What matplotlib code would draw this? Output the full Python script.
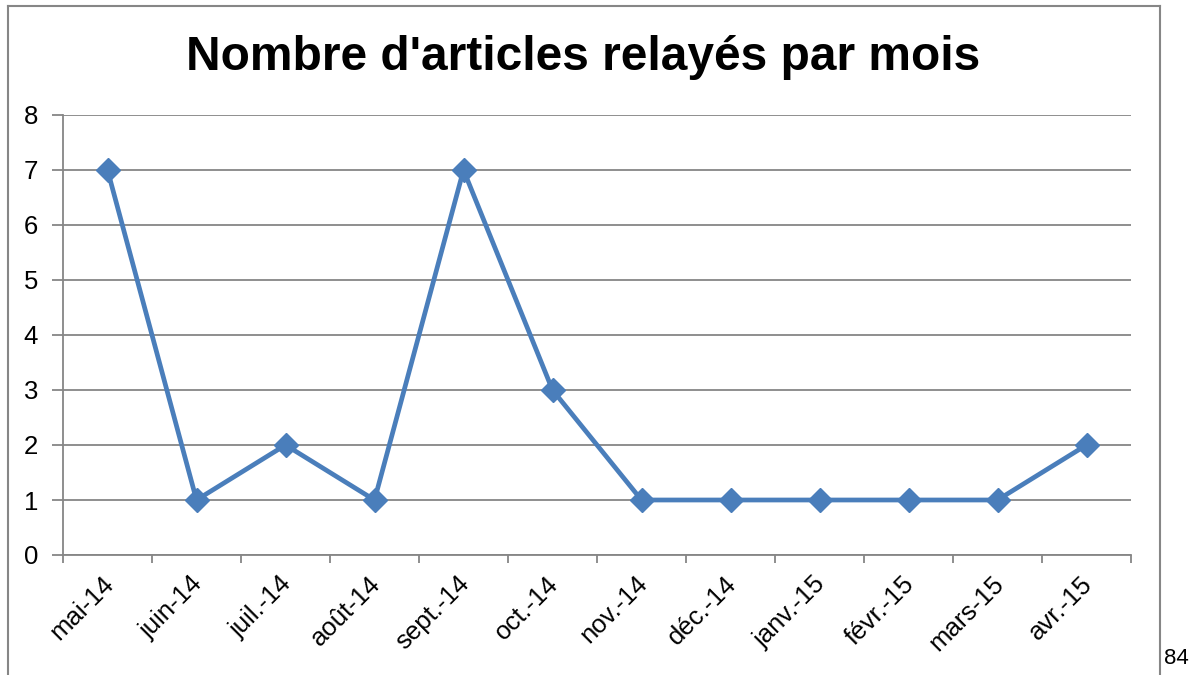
import matplotlib.pyplot as plt
import matplotlib.transforms as mtransforms
from matplotlib.lines import Line2D

plt.rcParams['font.family'] = ['Liberation Sans', 'DejaVu Sans']

# data
months = ["mai-14", "juin-14", "juil.-14", "août-14", "sept.-14", "oct.-14",
          "nov.-14", "déc.-14", "janv.-15", "févr.-15", "mars-15", "avr.-15"]
articles = [7, 1, 2, 1, 7, 3, 1, 1, 1, 1, 1, 2]
yticks = [0, 1, 2, 3, 4, 5, 6, 7, 8]

grid_col = "#868686"
line_col = "#4a7ebb"

fig = plt.figure(figsize=(11.92, 6.75), dpi=100)
ax = fig.add_axes([63/1192, 120/675, (1131-63)/1192, (555-115)/675])

x = range(len(months))
ax.plot(x, articles, color=line_col, linewidth=3.4, marker="D", markersize=12,
        zorder=3, clip_on=False)

ax.set_xlim(-0.5, len(months) - 0.5)
ax.set_ylim(0, 8)
ax.set_yticks(yticks)
for y in yticks:
    ax.axhline(y, color=grid_col, linewidth=1.3, zorder=1)

# category ticks at boundaries
ax.set_xticks([i - 0.5 for i in range(len(months) + 1)], minor=False)
ax.set_xticklabels([])
ax.set_xticks(list(x), minor=True)
ax.set_xticklabels(months, minor=True, rotation=45, ha="right", va="top",
                   rotation_mode="anchor", fontsize=18.5)
ax.tick_params(axis="x", which="major", length=6, width=1.3, color=grid_col)
ax.tick_params(axis="x", which="minor", length=0, pad=12)
ax.tick_params(axis="y", length=8, width=1.3, color=grid_col, labelsize=18.5, pad=10)
shift = mtransforms.ScaledTranslation(-6/100, 0, fig.dpi_scale_trans)
for lbl in ax.get_xticklabels(minor=True):
    lbl.set_transform(lbl.get_transform() + shift)

for s in ["top", "right"]:
    ax.spines[s].set_visible(False)
ax.spines["left"].set_color(grid_col)
ax.spines["left"].set_linewidth(1.3)
ax.spines["bottom"].set_color(grid_col)
ax.spines["bottom"].set_linewidth(1.3)

fig.text(0.489, 0.915, "Nombre d'articles relayés par mois", ha="center", va="center",
         fontsize=34.5, fontweight="bold")

# page frame
fig.add_artist(Line2D([8/1192, 8/1192], [0, 1 - 6/675], color=grid_col, linewidth=1.5))
fig.add_artist(Line2D([8/1192, 1160/1192], [1 - 6/675, 1 - 6/675], color=grid_col, linewidth=1.5))
fig.add_artist(Line2D([1160/1192, 1160/1192], [0, 1 - 6/675], color=grid_col, linewidth=1.5))
fig.text(1164/1192, 16/675, "84", fontsize=16, ha="left", va="center")

fig.savefig("out.png", dpi=100)
